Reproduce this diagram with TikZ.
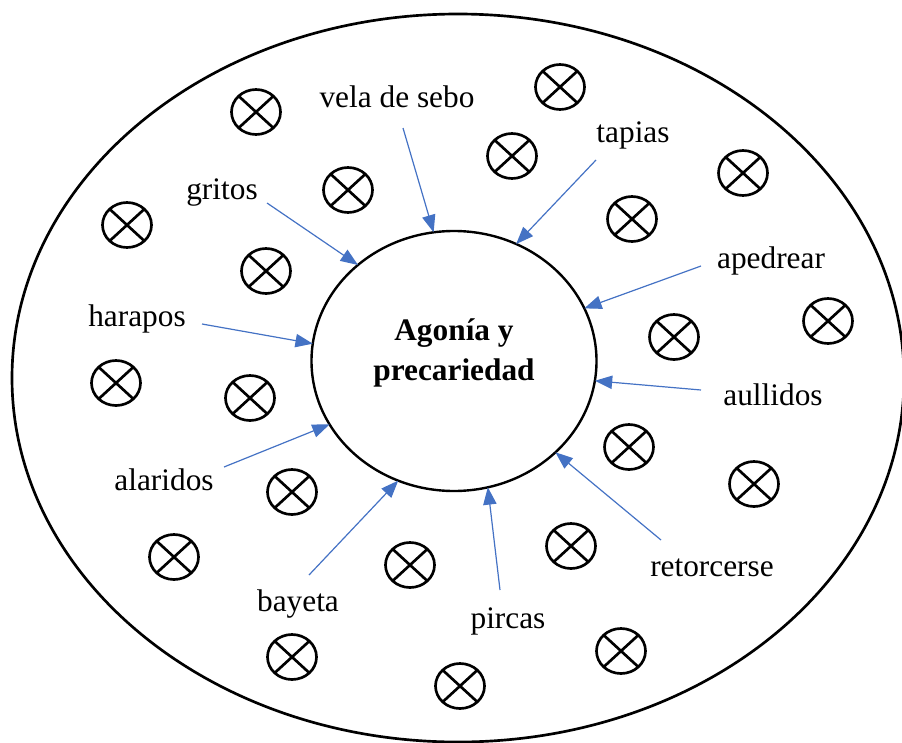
\documentclass[tikz,border=0pt]{standalone}
\usepackage{fontspec}
\setmainfont{Liberation Serif}
\usetikzlibrary{shapes.geometric,arrows.meta}
\definecolor{arrowblue}{RGB}{68,114,196}
\begin{document}
\begin{tikzpicture}[x=0.75pt,y=-0.75pt,
  every node/.style={inner sep=0pt, outer sep=0pt},
  word/.style={font=\fontsize{23.5}{28}\selectfont, anchor=base},
  xcirc/.style={draw, line width=2pt, ellipse, minimum width=36.75pt, minimum height=33.75pt,
    path picture={\draw[line width=2pt]
      (path picture bounding box.south west) -- (path picture bounding box.north east)
      (path picture bounding box.north west) -- (path picture bounding box.south east);}},
  core/.style={draw, line width=1.8pt, ellipse, minimum width=213.75pt, minimum height=195pt},
  title/.style={font=\bfseries\fontsize{23.5}{29.3}\selectfont, align=center, anchor=base},
  link/.style={color=arrowblue, line width=0.9pt, -{Triangle[length=13pt,width=10pt]}}
]
\useasboundingbox (0,0) rectangle (902,742);

% outer boundary
\draw[line width=2pt] (458,378) ellipse [x radius=334.5pt, y radius=273pt];

% central theme (base anchor sits on the last line)
\node[core] (core) at (454,361) {};
\node[title] (title) at (454,380) {Agonía y\\precariedad};

% scattered crossed circles
\foreach \n/\p in {1/{(256,112)}, 2/{(560,87)}, 3/{(348,190)}, 4/{(512,156)},
                   5/{(743,173)}, 6/{(127,225)}, 7/{(632,219)}, 8/{(266,271)},
                   9/{(674,337)}, 10/{(828,321)}, 11/{(116,383)}, 12/{(250,398)},
                   13/{(629,447)}, 14/{(754,484)}, 15/{(292,492)}, 16/{(174,557)},
                   17/{(571,546)}, 18/{(410,565)}, 19/{(292,657)}, 20/{(460,686)},
                   21/{(621,651)}}
  \node[xcirc] (x\n) at \p {};

% words
\node[word] (vela)       at (397,107) {vela de sebo};
\node[word] (tapias)     at (633,142) {tapias};
\node[word] (apedrear)   at (771,268) {apedrear};
\node[word] (aullidos)   at (773,405) {aullidos};
\node[word] (retorcerse) at (712,576) {retorcerse};
\node[word] (pircas)     at (508,628) {pircas};
\node[word] (bayeta)     at (298,611) {bayeta};
\node[word] (alaridos)   at (164,490) {alaridos};
\node[word] (harapos)    at (137,326) {harapos};
\node[word] (gritos)     at (222,199) {gritos};

% arrow tails
\coordinate (t-vela)       at (403,128);
\coordinate (t-tapias)     at (596,160);
\coordinate (t-apedrear)   at (701,266);
\coordinate (t-aullidos)   at (701,390);
\coordinate (t-retorcerse) at (661,540);
\coordinate (t-pircas)     at (500,590);
\coordinate (t-bayeta)     at (309,575);
\coordinate (t-alaridos)   at (224,467);
\coordinate (t-harapos)    at (202,324);
\coordinate (t-gritos)     at (267,203);

% arrows into the centre
\draw[link] (t-vela)       -- (core.99);
\draw[link] (t-tapias)     -- (core.62);
\draw[link] (t-apedrear)   -- (core.22);
\draw[link] (t-aullidos)   -- (core.-8);
\draw[link] (t-retorcerse) -- (core.-42);
\draw[link] (t-pircas)     -- (core.-75);
\draw[link] (t-bayeta)     -- (core.245);
\draw[link] (t-alaridos)   -- (core.207);
\draw[link] (t-harapos)    -- (core.173);
\draw[link] (t-gritos)     -- (core.135);
\end{tikzpicture}
\end{document}
